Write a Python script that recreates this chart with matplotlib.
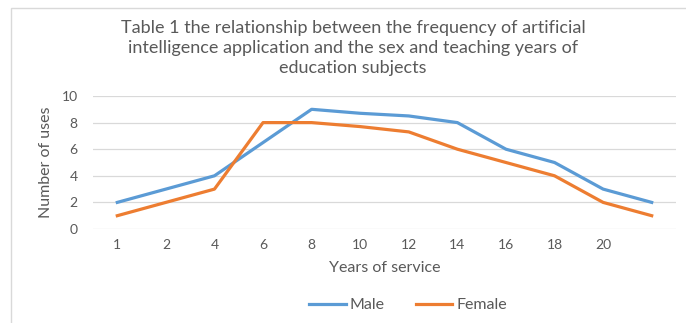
import matplotlib
matplotlib.use("Agg")
from matplotlib import pyplot as plt
from matplotlib.patches import Rectangle

plt.rcParams['font.family'] = ['Lato', 'DejaVu Sans']

years = ["1", "2", "4", "6", "8", "10", "12", "14", "16", "18", "20", ""]
male = [2, 3, 4, 6.5, 9, 8.7, 8.5, 8, 6, 5, 3, 2]
female = [1, 2, 3, 8, 8, 7.7, 7.3, 6, 5, 4, 2, 1]

grey = "#595959"

fig = plt.figure(figsize=(6.86, 3.23), dpi=100)
# light chart-area border (left and top edges)
fig.patches.append(Rectangle((11 / 686, -0.1), 1.2, 1 - 8 / 323 + 0.1,
                             transform=fig.transFigure, fill=False,
                             edgecolor="#d9d9d9", linewidth=1.0))

ax = fig.add_axes([93 / 686, 94 / 323, 583 / 686, 133 / 323])
x = range(len(years))
ax.plot(x, male, color="#5B9BD5", linewidth=2.3, label="Male")
ax.plot(x, female, color="#ED7D31", linewidth=2.3, label="Female")

ax.set_xlim(-0.5, len(years) - 0.5)
ax.set_ylim(0, 10)
ax.set_yticks(range(0, 11, 2))
ax.set_xticks(list(x))
ax.set_xticklabels(years)
ax.grid(axis="y", color="#d9d9d9", linewidth=0.9)
ax.set_axisbelow(True)
for s in ax.spines.values():
    s.set_visible(False)
ax.tick_params(length=0, labelsize=10, labelcolor=grey, pad=7.5)
ax.tick_params(axis="y", pad=11)

ax.set_xlabel("Years of service", fontsize=11.5, color=grey, labelpad=7)
ax.set_ylabel("Number of uses", fontsize=11.5, color=grey, labelpad=6)

fig.text(353 / 686, 1 - 48 / 323,
         "Table 1 the relationship between the frequency of artificial\n"
         "intelligence application and the sex and teaching years of\n"
         "education subjects",
         ha="center", va="center", fontsize=13, color=grey, linespacing=1.27)

fig.legend(loc="center", bbox_to_anchor=(408 / 686, 1 - 305 / 323), ncol=2,
           frameon=False, fontsize=11.5, labelcolor=grey, handlelength=2.3,
           handletextpad=0.25, columnspacing=1.95)

fig.savefig("out.png", dpi=100)
